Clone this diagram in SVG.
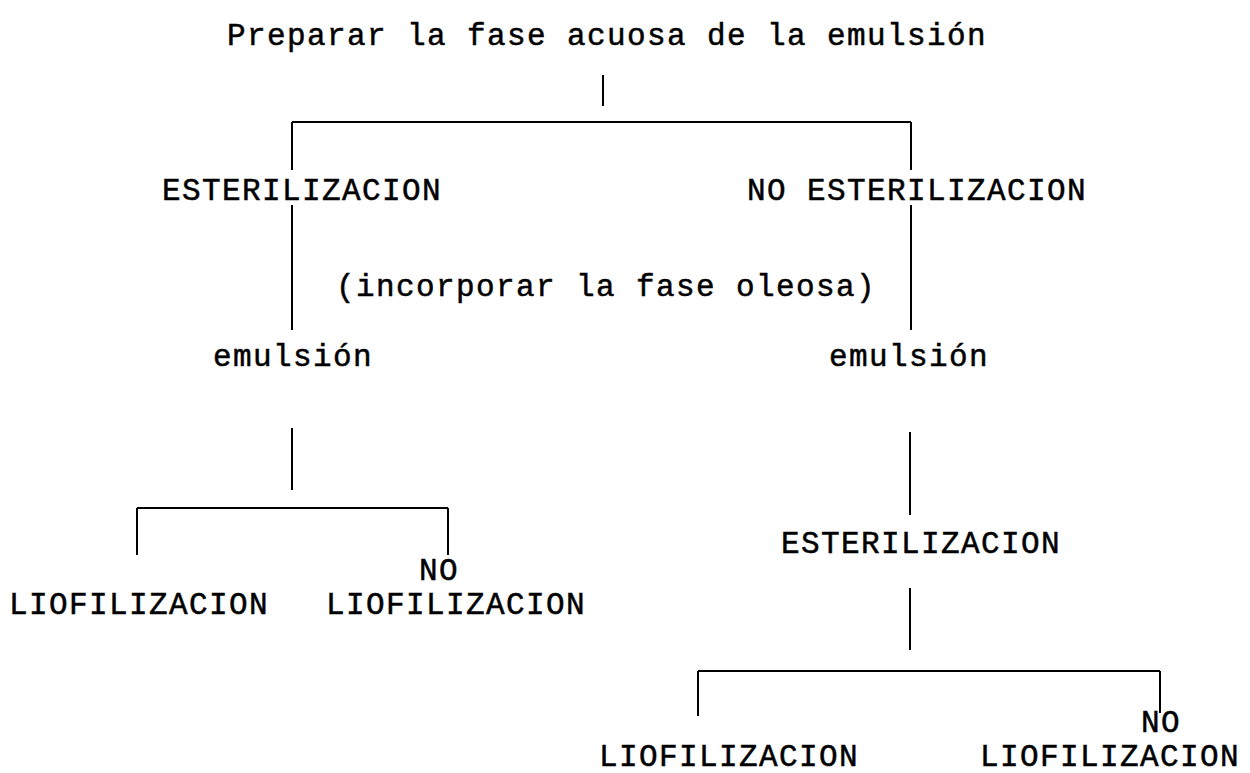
<svg xmlns="http://www.w3.org/2000/svg" width="1250" height="773" viewBox="0 0 1250 773">
<style>
text{font-family:"Liberation Mono","Courier New",monospace;font-size:31px;letter-spacing:1.4px;fill:#000;stroke:#000;stroke-width:0.5;text-anchor:middle}
.c line{stroke:#000;stroke-width:2}
</style>
<rect width="1250" height="773" fill="#fff"/>
<g class="c" id="connectors">
<line x1="603" y1="75" x2="603" y2="106"/>
<line x1="292" y1="122" x2="911" y2="122"/>
<line x1="292" y1="122" x2="292" y2="170"/>
<line x1="911" y1="122" x2="911" y2="170"/>
<line x1="292" y1="205" x2="292" y2="330"/>
<line x1="911" y1="205" x2="911" y2="330"/>
<line x1="292" y1="428" x2="292" y2="490"/>
<line x1="137" y1="508" x2="448" y2="508"/>
<line x1="137" y1="508" x2="137" y2="555"/>
<line x1="448" y1="508" x2="448" y2="555"/>
<line x1="910" y1="432" x2="910" y2="515"/>
<line x1="910" y1="588" x2="910" y2="650"/>
<line x1="698" y1="671" x2="1160" y2="671"/>
<line x1="698" y1="671" x2="698" y2="716"/>
<line x1="1160" y1="671" x2="1160" y2="713"/>
</g>
<g id="n_top"><text x="607" y="45">Preparar la fase acuosa de la emulsión</text></g>
<g id="n_est"><text x="302" y="200">ESTERILIZACION</text></g>
<g id="n_noest"><text x="917" y="200">NO ESTERILIZACION</text></g>
<g id="n_oleosa"><text x="606" y="296">(incorporar la fase oleosa)</text></g>
<g id="n_emul1"><text x="293" y="366">emulsión</text></g>
<g id="n_emul2"><text x="909" y="366">emulsión</text></g>
<g id="n_lio1"><text x="139" y="614">LIOFILIZACION</text></g>
<g id="n_nolio1"><text x="439" y="580">NO</text><text x="456" y="614">LIOFILIZACION</text></g>
<g id="n_est2"><text x="921" y="553">ESTERILIZACION</text></g>
<g id="n_lio2"><text x="729" y="766">LIOFILIZACION</text></g>
<g id="n_nolio2"><text x="1161" y="732">NO</text><text x="1110" y="766">LIOFILIZACION</text></g>
</svg>
